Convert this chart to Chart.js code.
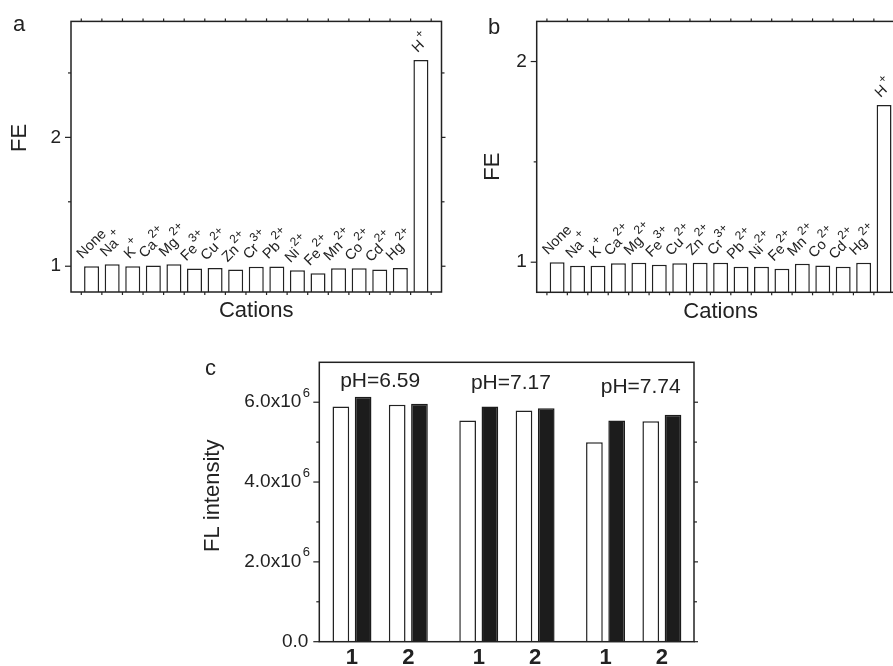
<!DOCTYPE html>
<html>
<head>
<meta charset="utf-8">
<script src="https://cdn.jsdelivr.net/npm/chart.js@4.4.0/dist/chart.umd.min.js"></script>
<style>
  html, body { margin: 0; padding: 0; background: #fff; width: 893px; height: 666px; overflow: hidden; }
  canvas { position: absolute; left: 0; top: 0; }
</style>
</head>
<body>
<canvas id="chartA" width="920" height="700"></canvas>
<canvas id="chartB" width="920" height="700"></canvas>
<canvas id="chartC" width="920" height="700"></canvas>
<script>
/* ── DATA ── */
const cations = ['None', 'Na', 'K', 'Ca', 'Mg', 'Fe', 'Cu', 'Zn', 'Cr', 'Pb', 'Ni', 'Fe', 'Mn', 'Co', 'Cd', 'Hg', 'H'];
const charges = ['', '+', '+', '2+', '2+', '3+', '2+', '2+', '3+', '2+', '2+', '2+', '2+', '2+', '2+', '2+', '+'];
const feA = [1.00, 1.015, 1.00, 1.005, 1.015, 0.982, 0.987, 0.974, 0.995, 0.997, 0.969, 0.946, 0.985, 0.985, 0.974, 0.987, 2.60];
const feB = [1.00, 0.982, 0.982, 0.995, 0.997, 0.987, 0.995, 0.997, 0.997, 0.977, 0.977, 0.967, 0.992, 0.984, 0.977, 0.997, 1.783];
const feTicks = [1, 2];
const feMinor = [1.5, 2.5];

const phGroups   = ['pH=6.59', 'pH=7.17', 'pH=7.74'];
const replicates = ['1', '2'];
const openVals   = [5.89e6, 5.935e6, 5.54e6, 5.79e6, 5.00e6, 5.525e6];
const filledVals = [6.14e6, 5.96e6, 5.89e6, 5.85e6, 5.54e6, 5.685e6];
const flTicks = [0, 2e6, 4e6, 6e6];
const flMinor = [1e6, 3e6, 5e6];

/* ── LOOK ── */
const FONT = '"Liberation Sans", Arial, Helvetica, sans-serif';
const INK  = '#222';
const CW = 920, CH = 700;

// padding that puts the chart area exactly on a page rectangle
function pad(area, yW, xH) {
  return { left: area.l - yW, top: area.t, right: CW - area.r, bottom: CH - area.b - xH };
}

// x position of a bar pair: groups spaced a bit wider than replicates
const pairX = (g, p) => 1 + p + g * 2.25;

/* ── PLUGINS ── */
const frame = {
  id: 'frame',
  afterDatasetsDraw(chart, args, opts) {
    const { ctx, chartArea: { left, right, top, bottom }, scales: { x, y } } = chart;
    const line = (x0, y0, x1, y1) => { ctx.beginPath(); ctx.moveTo(x0, y0); ctx.lineTo(x1, y1); ctx.stroke(); };
    ctx.save();
    ctx.strokeStyle = INK;
    ctx.lineWidth = 1.5;
    ctx.strokeRect(left, top, right - left, bottom - top);
    ctx.lineWidth = 1.2;
    (opts.major || []).forEach(v => { const py = y.getPixelForValue(v); line(left - 6, py, left, py); line(right, py, right + 4, py); });
    (opts.minor || []).forEach(v => { const py = y.getPixelForValue(v); line(left - 3, py, left, py); line(right, py, right + 3, py); });
    (opts.xMarks || []).forEach(v => { const px = x.getPixelForValue(v); line(px, bottom, px, bottom + 3); line(px, top, px, top - 3); });
    ctx.restore();
  }
};

// free text: panel letters and rotated y titles
const annot = {
  id: 'annot',
  afterDraw(chart, args, opts) {
    const { ctx } = chart;
    (opts.items || []).forEach(t => {
      ctx.save();
      ctx.fillStyle = INK;
      ctx.font = `${t.size}px ${FONT}`;
      ctx.textAlign = t.align || 'left';
      ctx.textBaseline = t.baseline || 'alphabetic';
      ctx.translate(t.x, t.y);
      if (t.rot) ctx.rotate(t.rot);
      ctx.fillText(t.text, 0, 0);
      ctx.restore();
    });
  }
};

// rotated ion names with charge superscripts above each bar
const ionLabels = {
  id: 'ionLabels',
  afterDatasetsDraw(chart) {
    const { ctx } = chart;
    const c = Math.SQRT1_2;
    chart.getDatasetMeta(0).data.forEach((bar, i) => {
      const base = cations[i], sup = charges[i];
      ctx.save();
      ctx.font = `14.5px ${FONT}`;
      const wb = ctx.measureText(base).width;
      ctx.font = `12px ${FONT}`;
      const ws = sup ? ctx.measureText(sup).width + 1 : 0;
      const w = wb + ws;
      ctx.translate(bar.x - w * c / 2 + 3, bar.y - 7);
      ctx.rotate(-Math.PI / 4);
      ctx.fillStyle = INK;
      ctx.font = `14.5px ${FONT}`;
      ctx.fillText(base, 0, 0);
      if (sup) { ctx.font = `12px ${FONT}`; ctx.fillText(sup, wb + 1, -8.5); }
      ctx.restore();
    });
  }
};

// FL axis labels with x10^6 and the pH captions
const flText = {
  id: 'flText',
  afterDraw(chart) {
    const { ctx, chartArea: { left, top }, scales: { x, y } } = chart;
    ctx.save();
    ctx.fillStyle = INK;
    ctx.textBaseline = 'middle';
    flTicks.forEach(v => {
      const py = y.getPixelForValue(v);
      ctx.font = `19px ${FONT}`;
      if (v === 0) {
        ctx.textAlign = 'right';
        ctx.fillText('0.0', left - 11, py);
        return;
      }
      ctx.textAlign = 'right';
      ctx.fillText((v / 1e6).toFixed(1) + 'x10', left - 18, py);
      ctx.font = `13px ${FONT}`;
      ctx.textAlign = 'left';
      ctx.fillText('6', left - 16.5, py - 9);
    });
    ctx.textBaseline = 'alphabetic';
    ctx.textAlign = 'center';
    ctx.font = `21px ${FONT}`;
    const dx = [0, 4, 7], dy = [24.4, 26.7, 31];
    phGroups.forEach((t, g) => ctx.fillText(t, x.getPixelForValue(pairX(g, 0.5)) + dx[g], top + dy[g]));
    ctx.restore();
  }
};

/* ── PANELS a, b ── */
function fePanel(id, values, area, yRange, xH, items) {
  const halfMarks = [];
  for (let i = -0.5; i < cations.length; i += 1) halfMarks.push(i);
  return new Chart(document.getElementById(id), {
    type: 'bar',
    data: {
      datasets: [{
        data: values.map((v, i) => ({ x: i, y: v })),
        backgroundColor: '#fff', borderColor: INK, borderWidth: 1.5,
        barPercentage: 0.73, categoryPercentage: 1,
      }]
    },
    options: {
      responsive: false, animation: false, events: [],
      layout: { padding: pad(area, 60, xH) },
      plugins: {
        legend: { display: false }, tooltip: { enabled: false },
        frame: { major: feTicks, minor: feMinor, xMarks: halfMarks },
        annot: { items },
      },
      scales: {
        x: {
          type: 'linear', min: -1, max: cations.length, offset: false,
          grid: { display: false, drawTicks: false }, border: { display: false },
          ticks: { display: false },
          afterBuildTicks: s => { s.ticks = cations.map((_, i) => ({ value: i })); },
          afterFit: s => { s.height = xH; },
          title: { display: true, text: 'Cations', color: INK, font: { family: FONT, size: 22 }, padding: 0 },
        },
        y: {
          min: yRange[0], max: yRange[1],
          grid: { display: false, drawTicks: false }, border: { display: false },
          afterBuildTicks: s => { s.ticks = feTicks.map(v => ({ value: v })); },
          ticks: { color: INK, font: { family: FONT, size: 19 }, padding: 10, callback: v => String(v) },
          afterFit: s => { s.width = 60; },
        }
      }
    },
    plugins: [frame, ionLabels, annot]
  });
}

fePanel('chartA', feA, { l: 71, t: 16, r: 441.5, b: 292 }, [0.8, 2.9], 31.7, [
  { text: 'a', x: 13, y: 31, size: 22 },
  { text: 'FE', x: 20, y: 138, size: 22, rot: -Math.PI / 2, align: 'center', baseline: 'middle' },
]);

fePanel('chartB', feB, { l: 536.7, t: 19.3, r: 904.5, b: 292.3 }, [0.85, 2.2], 33.3, [
  { text: 'b', x: 488, y: 33.5, size: 22 },
  { text: 'FE', x: 492.5, y: 166.7, size: 22, rot: -Math.PI / 2, align: 'center', baseline: 'middle' },
]);

/* ── PANEL c ── */
const pairPos = [];
phGroups.forEach((_, g) => replicates.forEach((_, p) => pairPos.push(pairX(g, p))));

new Chart(document.getElementById('chartC'), {
  type: 'bar',
  data: {
    datasets: [
      { data: openVals.map((v, k) => ({ x: pairPos[k], y: v })),
        backgroundColor: '#fff', borderColor: INK, borderWidth: 1.5 },
      { data: filledVals.map((v, k) => ({ x: pairPos[k], y: v })),
        backgroundColor: '#1c1c1c', borderColor: '#1c1c1c', borderWidth: 1.5 },
    ]
  },
  options: {
    responsive: false, animation: false, events: [],
    datasets: { bar: { barPercentage: 0.75, categoryPercentage: 0.79 } },
    layout: { padding: pad({ l: 319.3, t: 362.3, r: 694, b: 641.7 }, 100, 40) },
    plugins: {
      legend: { display: false }, tooltip: { enabled: false },
      frame: { major: flTicks, minor: flMinor },
      annot: { items: [
        { text: 'c', x: 205, y: 375, size: 22 },
        { text: 'FL intensity', x: 212.5, y: 495.8, size: 22, rot: -Math.PI / 2, align: 'center', baseline: 'middle' },
      ] },
    },
    scales: {
      x: {
        type: 'linear', min: 0.42, max: 7.07, offset: false,
        grid: { display: false, drawTicks: false }, border: { display: false },
        afterBuildTicks: s => { s.ticks = pairPos.map(v => ({ value: v })); },
        ticks: { color: INK, font: { family: FONT, size: 22, weight: 'bold' }, padding: 3,
                 autoSkip: false, maxRotation: 0,
                 callback: (v, i) => replicates[i % replicates.length] },
        afterFit: s => { s.height = 40; },
      },
      y: {
        min: 0, max: 7e6,
        grid: { display: false, drawTicks: false }, border: { display: false },
        afterBuildTicks: s => { s.ticks = flTicks.map(v => ({ value: v })); },
        ticks: { display: false },
        afterFit: s => { s.width = 100; },
      }
    }
  },
  plugins: [frame, flText, annot]
});
</script>
</body>
</html>
